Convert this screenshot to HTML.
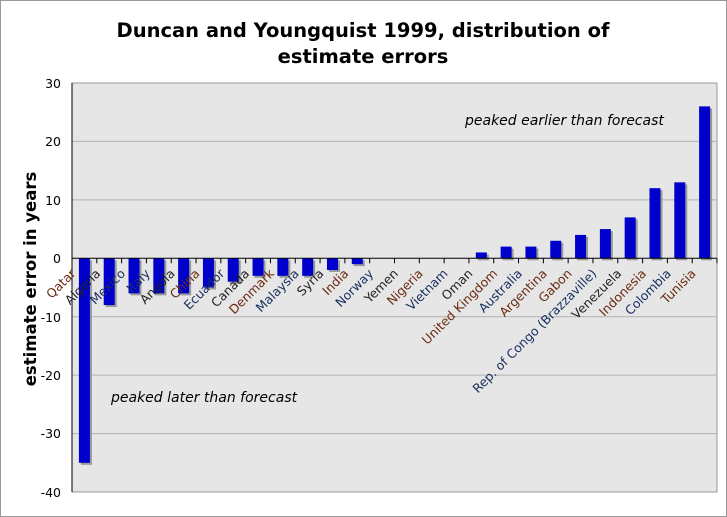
<!DOCTYPE html>
<html><head><meta charset="utf-8"><style>
body{margin:0;background:#fff;}
svg{display:block;font-family:"DejaVu Sans","Liberation Sans",sans-serif;}
</style></head><body>
<svg width="727" height="517" viewBox="0 0 727 517" xmlns="http://www.w3.org/2000/svg">
<rect x="0.5" y="0.5" width="726" height="516" fill="#fff" stroke="#999"/>
<text x="363" y="37" text-anchor="middle" font-size="19.5" font-weight="bold">Duncan and Youngquist 1999, distribution of</text>
<text x="363" y="63" text-anchor="middle" font-size="19.5" font-weight="bold">estimate errors</text>
<rect x="72" y="83" width="645" height="409" fill="#e6e6e6" stroke="#999"/>
<g stroke="#b0b0b0">
<line x1="72" x2="717" y1="141.4" y2="141.4"/><line x1="72" x2="717" y1="199.9" y2="199.9"/>
<line x1="72" x2="717" y1="316.7" y2="316.7"/><line x1="72" x2="717" y1="375.1" y2="375.1"/><line x1="72" x2="717" y1="433.6" y2="433.6"/>
</g>
<g font-size="12.5" text-anchor="end">
<text x="61" y="88">30</text><text x="61" y="146">20</text><text x="61" y="205">10</text><text x="61" y="263">0</text>
<text x="61" y="322">-10</text><text x="61" y="380">-20</text><text x="61" y="438">-30</text><text x="61" y="497">-40</text>
</g>
<text transform="translate(36,279) rotate(-90)" text-anchor="middle" font-size="16.5" font-weight="bold">estimate error in years</text>
<g id="bars"></g>
<line x1="72" x2="717" y1="258.3" y2="258.3" stroke="#000"/>
<line x1="72" x2="72" y1="83" y2="492" stroke="#000"/>
<g id="ticks" stroke="#000"></g>
<g id="labels" font-size="12.5"></g>
<text x="465" y="125" font-size="14" font-style="italic">peaked earlier than forecast</text>
<text x="111" y="402" font-size="14" font-style="italic">peaked later than forecast</text>
<script>
var d=[["Qatar",-35,"#6a2a10"],["Algeria",-8,"#222"],["Mexico",-6,"#1a3060"],["Italy",-6,"#1a3060"],["Angola",-6,"#222"],["China",-5,"#6a2a10"],["Ecuador",-4,"#1a3060"],["Canada",-3,"#222"],["Denmark",-3,"#6a2a10"],["Malaysia",-3,"#1a3060"],["Syria",-2,"#222"],["India",-1,"#6a2a10"],["Norway",0,"#1a3060"],["Yemen",0,"#222"],["Nigeria",0,"#6a2a10"],["Vietnam",0,"#1a3060"],["Oman",1,"#222"],["United Kingdom",2,"#6a2a10"],["Australia",2,"#1a3060"],["Argentina",3,"#6a2a10"],["Gabon",4,"#6a2a10"],["Rep. of Congo (Brazzaville)",5,"#1a3060"],["Venezuela",7,"#222"],["Indonesia",12,"#6a2a10"],["Colombia",13,"#1a3060"],["Tunisia",26,"#6a2a10"]];
var ns="http://www.w3.org/2000/svg",s=5.843,z=258.3,w=645/26;
var B=document.getElementById("bars"),T=document.getElementById("ticks"),L=document.getElementById("labels");
function el(t,a,p){var e=document.createElementNS(ns,t);for(var k in a)e.setAttribute(k,a[k]);p.appendChild(e);return e;}
d.forEach(function(r,i){var c=72+w*(i+0.5),v=r[1];
 if(v!=0){var y=v>0?z-v*s:z,h=Math.abs(v)*s;
 el("rect",{x:c-5.5+2,y:y+2,width:11,height:h,fill:"#999"},B);
 el("rect",{x:c-5.5,y:y,width:11,height:h,fill:"#0000cc"},B);}
 el("line",{x1:72+w*(i+1),x2:72+w*(i+1),y1:z,y2:z+5},T);
 var t=el("text",{"text-anchor":"end",fill:r[2],transform:"translate("+(c-8)+","+(z+16)+") rotate(-45)"},L);t.textContent=r[0];
});
</script>
</svg>
</body></html>
